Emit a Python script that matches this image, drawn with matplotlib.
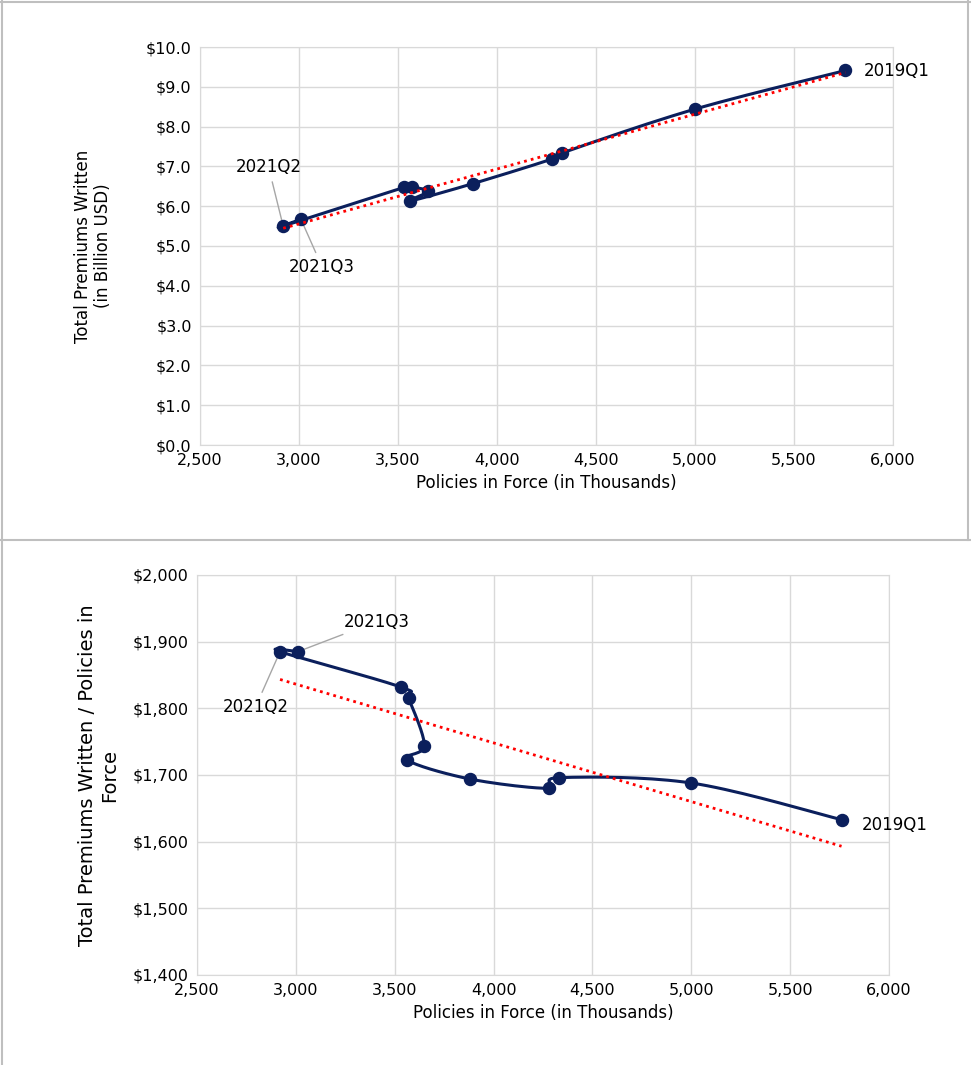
import numpy as np
import matplotlib.pyplot as plt
from matplotlib.lines import Line2D

# chronological order 2019Q1 .. 2021Q3
policies = [5760, 5000, 4330, 4280, 3880, 3560, 3650, 3570, 3530, 2920, 3010]
premiums = [9.41, 8.44, 7.34, 7.19, 6.57, 6.13, 6.37, 6.48, 6.47, 5.50, 5.67]
per_policy = [1633, 1688, 1696, 1680, 1694, 1723, 1744, 1815, 1832, 1885, 1885]

navy = "#0b1f5c"
W, H = 971, 1065


def smooth(x, y, n=20):
    # catmull-rom style smoothing like excel smoothed lines
    x = np.asarray(x, float); y = np.asarray(y, float)
    px = np.r_[x[0], x, x[-1]]; py = np.r_[y[0], y, y[-1]]
    ox, oy = [], []
    t = np.linspace(0, 1, n)
    for i in range(1, len(px) - 2):
        for p, o in ((px, ox), (py, oy)):
            p0, p1, p2, p3 = p[i-1], p[i], p[i+1], p[i+2]
            m1 = (p2 - p0) / 6; m2 = (p3 - p1) / 6
            o.extend((1-t)**3*p1 + 3*(1-t)**2*t*(p1+m1) + 3*(1-t)*t**2*(p2-m2) + t**3*p2)
    return ox, oy


fig = plt.figure(figsize=(W/100, H/100), dpi=100)
plt.rcParams['font.family'] = ['DejaVu Sans']
fs = 11.5

ax1 = fig.add_axes([200/W, 1-445/H, 693/W, 398/H])
ax2 = fig.add_axes([197/W, 1-975/H, 692/W, 400/H])

for ax, y, ylim, yt, fmt, ylab, yfs, lp in [
    (ax1, premiums, (0, 10), np.arange(0, 10.1, 1), lambda v: f"${v:.1f}",
     "Total Premiums Written\n(in Billion USD)", 12, 24),
    (ax2, per_policy, (1400, 2000), np.arange(1400, 2001, 100), lambda v: f"${v:,.0f}",
     "Total Premiums Written / Policies in\nForce", 14, 10),
]:
    sx, sy = smooth(policies, y)
    ax.plot(sx, sy, color=navy, lw=2.2, zorder=3)
    ax.scatter(policies, y, s=75, color=navy, zorder=4)
    k, b = np.polyfit(policies, y, 1)
    xs = np.array([min(policies), max(policies)])
    ax.plot(xs, k*xs + b, color="red", lw=2, ls=(0, (1, 1.5)), zorder=5)
    ax.set_xlim(2500, 6000)
    ax.set_ylim(*ylim)
    ax.set_xticks(np.arange(2500, 6001, 500))
    ax.set_xticklabels([f"{v:,}" for v in range(2500, 6001, 500)], fontsize=fs)
    ax.set_yticks(yt)
    ax.set_yticklabels([fmt(v) for v in yt], fontsize=fs)
    ax.grid(color="#d9d9d9", lw=1)
    ax.set_axisbelow(True)
    for s in ax.spines.values():
        s.set_color("#d9d9d9")
    ax.tick_params(length=0, pad=6)
    ax.set_xlabel("Policies in Force (in Thousands)", fontsize=12)
    ax.set_ylabel(ylab, fontsize=yfs, labelpad=lp)

ann = dict(fontsize=12, arrowprops=dict(arrowstyle="-", color="#a6a6a6", lw=1))
ax1.annotate("2019Q1", (policies[0], premiums[0]), xytext=(5850, 9.4), va="center", fontsize=12)
ax1.annotate("2021Q2", (2920, 5.5), xytext=(2680, 6.85), ha="left", **ann)
ax1.annotate("2021Q3", (3010, 5.67), xytext=(2950, 4.35), ha="left", **ann)
ax2.annotate("2019Q1", (policies[0], per_policy[0]), xytext=(5860, 1625), va="center", fontsize=12)
ax2.annotate("2021Q2", (2920, 1885), xytext=(2630, 1795), ha="left", **ann)
ax2.annotate("2021Q3", (3010, 1885), xytext=(3240, 1930), ha="left", va="center", **ann)

# panel borders
g = "#bfbfbf"
fig.add_artist(Line2D([0, 1], [1-540/H, 1-540/H], color=g, lw=1.5, transform=fig.transFigure))
fig.add_artist(Line2D([2/W, 2/W], [0, 1], color=g, lw=1.5, transform=fig.transFigure))
fig.add_artist(Line2D([968/W, 968/W], [1-540/H, 1], color=g, lw=1.5, transform=fig.transFigure))
fig.add_artist(Line2D([0, 1], [1-2/H, 1-2/H], color=g, lw=1.5, transform=fig.transFigure))

fig.savefig("out.png", dpi=100, facecolor="white")
